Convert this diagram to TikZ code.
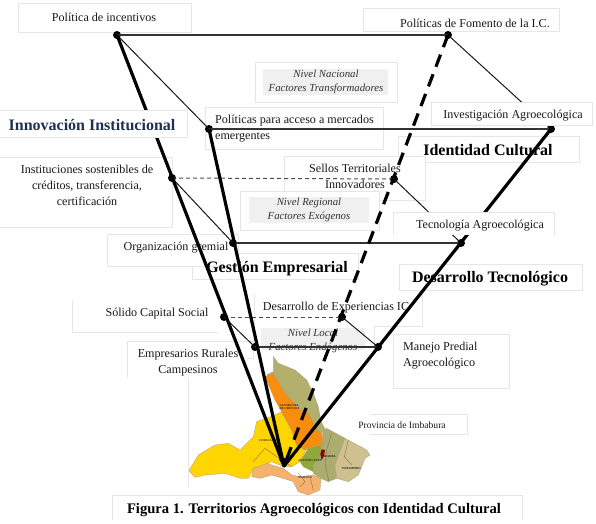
\documentclass[tikz,border=0pt]{standalone}
\usepackage{fontspec}
\setmainfont{Liberation Serif}
\definecolor{boxline}{HTML}{E6E6E6}
\definecolor{innerg}{HTML}{F0F0F0}
\definecolor{navy}{HTML}{1F3050}
\definecolor{mapolive}{HTML}{B3AF6C}
\definecolor{mapibarra}{HTML}{ABAD6E}
\definecolor{mapor}{HTML}{F98D0E}
\definecolor{mapye}{HTML}{FFD500}
\definecolor{mappe}{HTML}{F4B26E}
\definecolor{mapgr}{HTML}{8FA83C}
\definecolor{maptan}{HTML}{CFC08F}
\definecolor{mapedge}{HTML}{8C6A3A}
\tikzset{
  frame/.style={draw=boxline,line width=0.8pt,fill=white},
  frameline/.style={draw=boxline,line width=0.8pt},
  innerbox/.style={fill=innerg,draw=none},
  lab/.style={inner sep=0pt,align=center,yshift=-1.5pt,text=black!90,font=\fontsize{12.1}{16}\selectfont},
  lableft/.style={lab,align=left,anchor=west},
  lvl/.style={inner sep=0pt,align=center,yshift=-1pt,text=black!80,font=\fontsize{10.8}{14}\selectfont\itshape},
  ttl/.style={inner sep=0pt,align=center,text=black,font=\fontsize{16}{18}\selectfont\bfseries},
  dot/.style={circle,fill=black,inner sep=0pt,minimum size=8pt},
  thickl/.style={line width=3.2pt,black},
  thickdash/.style={line width=3.2pt,black,dash pattern=on 13pt off 8pt},
  thinl/.style={line width=1pt,black!90},
  hline/.style={line width=1.1pt,black!80},
  grayd/.style={line width=1pt,black!70,dash pattern=on 4pt off 3pt},
  region/.style={line width=0.3pt,draw=mapedge!70},
  inborder/.style={line width=0.35pt,draw=mapedge},
  tiny/.style={inner sep=0pt,font=\fontsize{3}{3}\selectfont\bfseries,align=center,text=black!85}
}
\begin{document}
\begin{tikzpicture}[x=1pt,y=-1pt]
\useasboundingbox (0,0) rectangle (596,523);
% frames under the connectors
\draw[frame] (18,3) rectangle (191,32);
\draw[frame] (363,8) rectangle (559,31);
\draw[frame] (255,62) rectangle (397,102);
\fill[innerbox] (263,69) rectangle (388,95);
\draw[frame] (205,107) rectangle (383,149);
\draw[frame] (398,136) rectangle (579,162);
\draw[frame] (-2,157) rectangle (172,227);
\draw[frame] (284,156) rectangle (425,200);
\draw[frame] (240,191) rectangle (379,230);
\fill[innerbox] (249,197) rectangle (369,223);
\draw[frame] (192,253) rectangle (358,279);
\draw[frame] (107,234) rectangle (238,266);
\draw[frame] (399,264) rectangle (582,290);
\draw[frameline] (72,300) -- (72,332) -- (218,332);
\draw[frameline] (254,294) -- (254,326);
\draw[frameline] (422,294) -- (422,326) -- (374,326) -- (374,347);
\fill[innerbox] (261,328) rectangle (365,350);
\draw[frame] (393,334) -- (509,334) -- (509,388) -- (393,388) -- cycle;
\draw[frameline] (127,378) -- (127,341) -- (253,341) -- (253,358) -- (247,358);
\draw[frameline] (188,378) -- (188,487);
\draw[frameline] (370,414) -- (467,414) -- (467,434) -- (370,434);
\draw[frameline] (112,520) -- (112,495) -- (522,495) -- (522,520);
% labels under the connectors
\node[lab] (t1) at (104,16) {Política de incentivos};
\node[lab] (t2) at (475,22) {Políticas de Fomento de la I.C.};
\node[lvl] (n1) at (326,81) {Nivel Nacional\\Factores Transformadores};
\node[lableft] (t3) at (215,127) {Políticas para acceso a mercados\\emergentes};
\node[ttl] (h2) at (488,150) {Identidad Cultural};
\node[lab] (t5) at (87,184) {Instituciones sostenibles de\\créditos, transferencia,\\certificación};
\node[lab] (t6) at (355,175) {Sellos Territoriales\\Innovadores};
\node[lvl] (n2) at (309,209) {Nivel Regional\\Factores Exógenos};
\node[lab] (t8) at (176,246) {Organización gremial};
\node[ttl] (h3) at (277,269) {Gestión Empresarial};
\node[ttl] (h4) at (490,279) {Desarrollo Tecnológico};
\node[lab] (t9) at (157,312) {Sólido Capital Social};
\node[lab] (t10) at (336,306) {Desarrollo de Experiencias IC};
\node[lvl] (n3) at (313,340) {Nivel Local\\Factores Endógenos};
\node[lab] (t11) at (188,361) {Empresarios Rurales\\Campesinos};
\node[lableft] (t12) at (403,354) {Manejo Predial\\Agroecológico};
\node[lab,font=\fontsize{9.6}{12}\selectfont] (t13) at (402,424) {Provincia de Imbabura};
\node[ttl,font=\fontsize{14.6}{16}\selectfont\bfseries] (cap) at (314,510) {Figura 1. Territorios Agroecológicos con Identidad Cultural};
% map of the province
\begin{scope}[shift={(185,350)},x=0.3333pt,y=-0.3333pt]
\filldraw[region,fill=mapolive] (265,20) -- (280,40) -- (330,60) -- (365,90) -- (385,130) -- (400,170) -- (408,215) -- (425,245) -- (395,250) -- (370,190) -- (345,180) -- (300,130) -- (270,85) -- (245,75) -- (265,65) -- cycle;
\filldraw[region,fill=mapibarra] (385,345) -- (410,290) -- (413,250) -- (425,235) -- (480,265) -- (450,345) -- (455,385) -- (430,395) -- (408,385) -- (385,370) -- cycle;
\filldraw[region,fill=maptan] (480,265) -- (545,300) -- (555,315) -- (540,325) -- (520,375) -- (490,395) -- (455,385) -- (450,345) -- cycle;
\filldraw[region,fill=mappe] (200,380) -- (205,355) -- (240,335) -- (260,345) -- (295,355) -- (320,375) -- (345,380) -- (385,375) -- (408,385) -- (405,420) -- (370,435) -- (340,425) -- (325,395) -- (295,385) -- (260,375) -- (225,385) -- cycle;
\filldraw[region,fill=mapye] (12,362) -- (40,315) -- (90,285) -- (130,280) -- (165,300) -- (205,260) -- (215,215) -- (270,195) -- (290,185) -- (320,240) -- (335,285) -- (365,295) -- (345,335) -- (320,350) -- (295,350) -- (260,335) -- (205,355) -- (190,385) -- (165,385) -- (120,370) -- (60,375) -- (30,382) -- cycle;
\filldraw[region,fill=mapor] (240,80) -- (265,72) -- (300,130) -- (345,180) -- (370,190) -- (395,240) -- (410,250) -- (413,285) -- (385,290) -- (360,300) -- (335,285) -- (320,240) -- (290,185) -- (270,150) -- (255,115) -- cycle;
\filldraw[region,fill=mapgr] (345,335) -- (370,295) -- (410,285) -- (405,320) -- (385,345) -- (385,365) -- (355,350) -- cycle;
\fill[red!55!black] (410,298) -- (420,300) -- (417,318) -- (410,330) -- (406,312) -- cycle;
\draw[inborder] (205,335) -- (240,295) -- (290,330) -- (320,350);
\draw[inborder] (440,250) -- (425,300) -- (420,340) -- (432,395);
\draw[inborder] (490,270) -- (478,320) -- (500,345);
\draw[inborder] (340,370) -- (360,395) -- (345,410);
\draw[inborder] (375,380) -- (385,420);
\node[tiny] (m1) at (313,172) {SAN MIGUEL\\DE URCUQUI};
\node[tiny] (m2) at (250,271) {COTACACHI};
\node[tiny] (m3) at (375,331) {ANTONIO ANTE};
\node[tiny] (m4) at (435,321) {IBARRA};
\node[tiny] (m5) at (500,356) {PIMAMPIRO};
\node[tiny] (m6) at (360,383) {OTAVALO};
\end{scope}
% junction points
\node[dot] (A) at (117,35) {};
\node[dot] (B) at (448,35) {};
\node[dot] (C) at (209,129) {};
\node[dot] (D) at (551,129) {};
\node[dot] (E) at (172,178) {};
\node[dot] (F) at (394,179) {};
\node[dot] (G) at (233,243) {};
\node[dot] (H) at (461,243) {};
\node[dot] (I) at (224,317) {};
\node[dot] (J) at (342,317) {};
\node[dot] (K) at (255,347) {};
\node[dot] (L) at (378,347) {};
\coordinate (apex) at (284,466);
% connectors
\draw[hline] (A.center) -- (B.center);
\draw[hline] (C.center) -- (D.center);
\draw[hline] (G.center) -- (H.center);
\draw[hline] (K.center) -- (L.center);
\draw[grayd] (E.center) -- (F.center);
\draw[grayd] (I.center) -- (J.center);
\draw[thinl] (A.center) -- (C.center);
\draw[thinl] (B.center) -- (D.center);
\draw[thinl] (E.center) -- (G.center);
\draw[thinl] (F.center) -- (H.center);
\draw[thinl] (I.center) -- (K.center);
\draw[thinl] (J.center) -- (L.center);
\draw[thickl] (A.center) -- (apex);
\draw[thickl] (C.center) -- (apex);
\draw[thickl] (D.center) -- (apex);
\draw[thickdash] (B.center) -- (apex);
\fill[black] (279,459) -- (292,457) -- (284,468) -- cycle;
% frames that hide the connectors
\draw[frame] (-2,110) rectangle (187,137);
\node[ttl,text=navy] (h1) at (92,125) {Innovación Institucional};
\draw[frame] (431,102) rectangle (592,125);
\node[lab] (t4) at (513,114) {Investigación Agroecológica};
\fill[white] (393,212) rectangle (554,235);
\draw[frameline] (393,235) -- (393,212) -- (554,212) -- (554,235);
\node[lab] (t7) at (480,224) {Tecnología Agroecológica};
\end{tikzpicture}
\end{document}
